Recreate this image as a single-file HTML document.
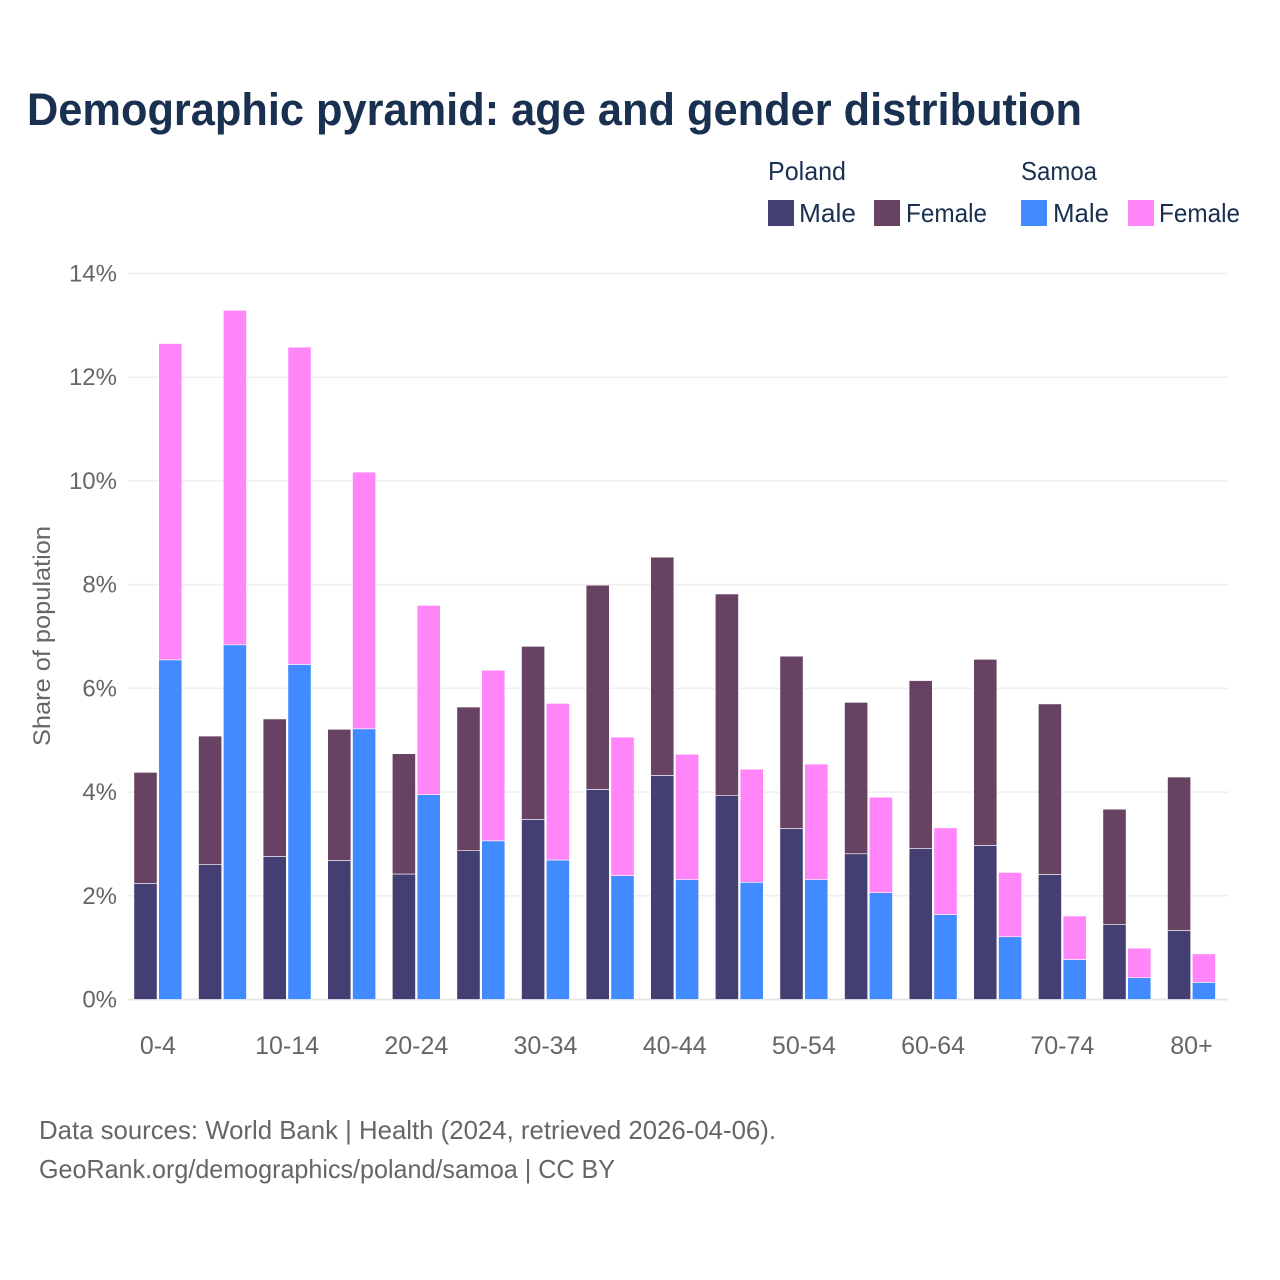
<!DOCTYPE html>
<html lang="en">
<head>
<meta charset="utf-8">
<title>Demographic pyramid: age and gender distribution</title>
<style>
html,body{margin:0;padding:0;background:#fff;}
svg{display:block;font-family:"Liberation Sans",sans-serif;}
</style>
</head>
<body>
<svg id="chart" width="1280" height="1280" viewBox="0 0 1280 1280" xmlns="http://www.w3.org/2000/svg">
  <rect x="0" y="0" width="1280" height="1280" fill="#ffffff"/>
  <text x="27" y="125" font-size="45" font-weight="700" fill="#1a3050" textLength="1055" lengthAdjust="spacingAndGlyphs">Demographic pyramid: age and gender distribution</text>

  <g font-size="26" fill="#1a3050">
    <text x="768" y="180" textLength="78" lengthAdjust="spacingAndGlyphs">Poland</text>
    <text x="1021" y="180" textLength="76" lengthAdjust="spacingAndGlyphs">Samoa</text>
    <rect x="768" y="200" width="26" height="26" fill="#433f72"/>
    <text x="799" y="222" textLength="57" lengthAdjust="spacingAndGlyphs">Male</text>
    <rect x="874" y="200" width="26" height="26" fill="#684262"/>
    <text x="906" y="222" textLength="81" lengthAdjust="spacingAndGlyphs">Female</text>
    <rect x="1021" y="200" width="26" height="26" fill="#418aff"/>
    <text x="1053" y="222" textLength="56" lengthAdjust="spacingAndGlyphs">Male</text>
    <rect x="1128" y="200" width="26" height="26" fill="#ff85f8"/>
    <text x="1159" y="222" textLength="81" lengthAdjust="spacingAndGlyphs">Female</text>
  </g>

  <g id="grid"></g>
  <g id="bars"></g>
  <g id="yticks" font-size="24" fill="#666666"></g>
  <g id="xticks" font-size="25" fill="#666666"></g>

  <text transform="translate(50,636) rotate(-90)" text-anchor="middle" font-size="24" fill="#666666" textLength="220" lengthAdjust="spacingAndGlyphs">Share of population</text>

  <text x="39" y="1139" font-size="26" fill="#666666" textLength="737" lengthAdjust="spacingAndGlyphs">Data sources: World Bank | Health (2024, retrieved 2026-04-06).</text>
  <text x="39" y="1178" font-size="26" fill="#666666" textLength="576" lengthAdjust="spacingAndGlyphs">GeoRank.org/demographics/poland/samoa | CC BY</text>
</svg>
<script>
const categories = ['0-4','5-9','10-14','15-19','20-24','25-29','30-34','35-39','40-44','45-49','50-54','55-59','60-64','65-69','70-74','75-79','80+'];
const polandMale = [2.24,2.60,2.76,2.68,2.42,2.87,3.47,4.05,4.32,3.93,3.30,2.81,2.91,2.97,2.41,1.45,1.33];
const polandFemale = [2.14,2.48,2.65,2.53,2.32,2.77,3.34,3.94,4.21,3.89,3.32,2.92,3.24,3.59,3.29,2.22,2.96];
const samoaMale = [6.55,6.84,6.46,5.22,3.95,3.06,2.69,2.39,2.31,2.26,2.31,2.06,1.64,1.21,0.77,0.42,0.33];
const samoaFemale = [6.10,6.45,6.12,4.95,3.65,3.29,3.02,2.67,2.42,2.18,2.23,1.84,1.67,1.24,0.84,0.57,0.55];
const yTicks = [0,2,4,6,8,10,12,14];
const xTickLabels = ['0-4','10-14','20-24','30-34','40-44','50-54','60-64','70-74','80+'];

const NS = 'http://www.w3.org/2000/svg';
const plotLeft = 128, plotRight = 1228, baseY = 999.5, topY = 273.5, yMax = 14;
const bandStart = 133.9, bandStep = 64.6, barW = 23.2, barGap = 1.6;
function yScale(v) { return baseY - (v / yMax) * (baseY - topY); }
function xScale(i) { return bandStart + bandStep * i; }

const gridG = document.getElementById('grid');
const barsG = document.getElementById('bars');
const yG = document.getElementById('yticks');
const xG = document.getElementById('xticks');

yTicks.forEach(function (t) {
  const line = document.createElementNS(NS, 'line');
  
  
  line.setAttribute('x1', plotLeft);
  line.setAttribute('x2', plotRight);
  line.setAttribute('y1', yScale(t));
  line.setAttribute('y2', yScale(t));
  line.setAttribute('stroke', t === 0 ? '#e6e6e6' : '#eeeeee');
  line.setAttribute('stroke-width', t === 0 ? 2 : 1.5);
  gridG.appendChild(line);

  const label = document.createElementNS(NS, 'text');
  
  
  label.setAttribute('x', 117);
  label.setAttribute('y', yScale(t) + 8);
  label.setAttribute('text-anchor', 'end');
  label.textContent = t + '%';
  yG.appendChild(label);
});

function addBar(x, v0, v1, fill, name) {
  const r = document.createElementNS(NS, 'rect');
  
  
  r.setAttribute('x', x);
  r.setAttribute('y', yScale(v1));
  r.setAttribute('width', barW);
  r.setAttribute('height', yScale(v0) - yScale(v1));
  r.setAttribute('fill', fill);
  r.setAttribute('stroke', '#ffffff');
  r.setAttribute('stroke-width', 0.6);
  barsG.appendChild(r);
}

categories.forEach(function (c, i) {
  const x1 = xScale(i);
  const x2 = x1 + barW + barGap;
  addBar(x1, 0, polandMale[i], '#433f72', 'bar-poland-male-' + c);
  addBar(x1, polandMale[i], polandMale[i] + polandFemale[i], '#684262', 'bar-poland-female-' + c);
  addBar(x2, 0, samoaMale[i], '#418aff', 'bar-samoa-male-' + c);
  addBar(x2, samoaMale[i], samoaMale[i] + samoaFemale[i], '#ff85f8', 'bar-samoa-female-' + c);

  if (xTickLabels.indexOf(c) !== -1) {
    const label = document.createElementNS(NS, 'text');
    
    
    label.setAttribute('x', x1 + barW + barGap / 2);
    label.setAttribute('y', 1054);
    label.setAttribute('text-anchor', 'middle');
    label.textContent = c;
    xG.appendChild(label);
  }
});
</script>
</body>
</html>
